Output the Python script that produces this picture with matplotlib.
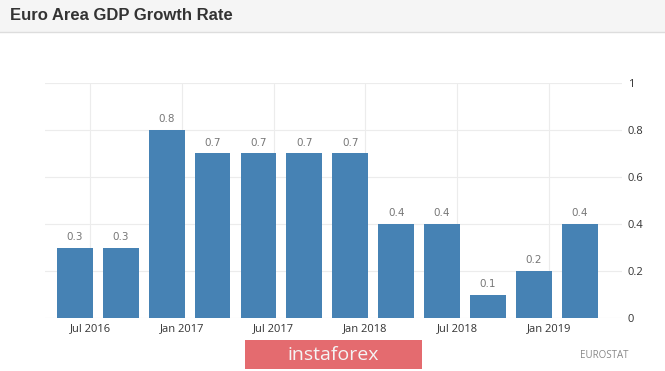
import matplotlib
matplotlib.use('Agg')
import matplotlib.pyplot as plt
from matplotlib.patches import Rectangle

# quarterly growth, % q/q
values = [0.3, 0.3, 0.8, 0.7, 0.7, 0.7, 0.7, 0.4, 0.4, 0.1, 0.2, 0.4]
tick_labels = ['Jul 2016', 'Jan 2017', 'Jul 2017', 'Jan 2018', 'Jul 2018', 'Jan 2019']
y_ticks = [0, 0.2, 0.4, 0.6, 0.8, 1]
y_tick_labels = ['0', '0.2', '0.4', '0.6', '0.8', '1']

bar_color = '#4682b4'
grid_color = '#ececec'

W, H = 665, 371
fig = plt.figure(figsize=(6.65, 3.71), dpi=100)

# title strip
fig.patches.append(Rectangle((0, 1 - 32 / H), 1, 32 / H, transform=fig.transFigure,
                             facecolor='#f5f5f5', edgecolor='none', zorder=0))
fig.lines.append(plt.Line2D([0, 1], [1 - 32 / H] * 2, transform=fig.transFigure,
                            color='#dddddd', lw=1))
fig.text(10 / W, 1 - 16 / H, 'Euro Area GDP Growth Rate', fontsize=12,
         fontweight='bold', color='#333333', va='center', family='Liberation Sans')

ax = fig.add_axes([45 / W, 1 - 318 / H, (622 - 45) / W, (318 - 83) / H])
x = list(range(len(values)))
ax.bar(x, values, width=0.78, color=bar_color, zorder=2)
for xi, v in zip(x, values):
    ax.text(xi, v + 0.025, f'{v:g}', ha='center', va='bottom', fontsize=7.5,
            color='#777777', family='DejaVu Sans')

ax.set_xlim(-0.65, 11.92)
ax.set_ylim(0, 1)
tick_pos = [0.33 + 2 * k for k in range(len(tick_labels))]
ax.set_xticks(tick_pos)
ax.set_xticklabels(tick_labels, fontsize=8, color='#333333', family='Open Sans')
ax.yaxis.tick_right()
ax.set_yticks(y_ticks)
ax.set_yticklabels(y_tick_labels, fontsize=8, color='#333333', family='Open Sans')
ax.tick_params(length=0, pad=4)
ax.grid(True, color=grid_color, lw=0.8, zorder=0)
ax.set_axisbelow(True)
for s in ax.spines.values():
    s.set_visible(False)

# footer
fig.text(580 / W, 1 - 356 / H, 'EUROSTAT', fontsize=7, color='#888888',
         va='center', family='Open Sans')
fig.patches.append(Rectangle((245 / W, 1 - 369 / H), 177 / W, 29 / H,
                             transform=fig.transFigure, facecolor='#e46b6f',
                             edgecolor='none'))
fig.text(333.5 / W, 1 - 355 / H, 'instaforex', fontsize=14, color='#f4f4f4',
         ha='center', va='center', family='Open Sans')

plt.savefig('out.png', dpi=100)
